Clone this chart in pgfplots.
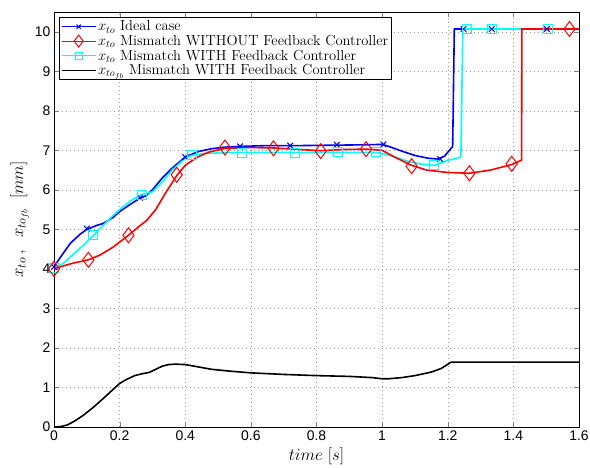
\documentclass[border=0pt]{standalone}
\usepackage{fix-cm}
\usepackage{fontspec}
\usepackage{pgfplots}
\pgfplotsset{compat=1.18}
\newfontfamily\helv{Liberation Sans}
\definecolor{mcyan}{rgb}{0,1,1}
\definecolor{mblue}{rgb}{0,0,1}
\definecolor{mred}{rgb}{1,0,0}

\begin{document}
\begin{tikzpicture}
  \begin{axis}[
      scale only axis,
      width=525bp, height=415bp,
      xmin=0, xmax=1.6, ymin=0, ymax=10.5,
      xtick={0,0.2,...,1.6},
      ytick={0,1,...,10},
      xticklabels={0,0.2,0.4,0.6,0.8,1,1.2,1.4,1.6},
      tick align=inside,
      major tick length=5bp,
      grid=major,
      major grid style={gray!80, dash pattern=on 1bp off 3bp},
      axis line style={line width=0.8bp},
      /pgf/number format/assume math mode=true,
      tick label style={font=\helv\fontsize{14}{14}\selectfont},
      xlabel={$time\ [s]$},
      ylabel={$x_{to}\,,\;\; x_{to_{fb}}\;\;[mm]$},
      label style={font=\fontsize{17}{17}\selectfont},
      xlabel style={yshift=-1bp},
      ylabel style={yshift=-1bp},
      legend style={at={(0.01,0.988)}, anchor=north west,
        font=\fontsize{14.6}{15}\selectfont,
        draw=black, line width=0.8bp, inner sep=1.5bp,
        row sep=-1.2bp,
        cells={anchor=west}},
      legend image code/.code={%
        \draw[mark repeat=2, mark phase=2, line width=1bp, #1]
          plot coordinates {(0cm,0cm) (0.6cm,0cm) (1.2cm,0cm)};},
  ]

  % legend entries
  \addlegendimage{mblue, mark=x, mark size=3bp}
  \addlegendentry{$x_{to}$ Ideal case}
  \addlegendimage{mred, mark=diamond, mark size=6bp}
  \addlegendentry{$x_{to}$ Mismatch WITHOUT Feedback Controller}
  \addlegendimage{mcyan, mark=square, mark size=3.5bp}
  \addlegendentry{$x_{to}$ Mismatch WITH Feedback Controller}
  \addlegendimage{black, no marks}
  \addlegendentry{$x_{to_{fb}}$ Mismatch WITH Feedback Controller}

  % ideal case (blue)
  \addplot[mblue, line width=1.6bp, forget plot] coordinates {
    (0,4.05) (0.02,4.3) (0.05,4.65) (0.08,4.88) (0.10,5.0) (0.13,5.1)
    (0.15,5.15) (0.18,5.3) (0.2,5.45) (0.23,5.62) (0.26,5.78) (0.28,5.85)
    (0.30,6.0) (0.33,6.3) (0.36,6.55) (0.40,6.83) (0.44,6.97) (0.48,7.04)
    (0.52,7.08) (0.57,7.1) (0.65,7.12) (0.75,7.12) (0.85,7.13) (0.95,7.14)
    (1.0,7.15) (1.02,7.1) (1.06,6.98) (1.10,6.87) (1.14,6.8) (1.17,6.78)
    (1.19,6.85) (1.21,7.05) (1.215,7.1) (1.22,10.07) (1.6,10.07)
  };
  \addplot[mblue, only marks, mark=x, mark size=4bp, line width=1bp, forget plot] coordinates {
    (0,4.05) (0.10,5.02) (0.262,5.8) (0.40,6.83) (0.567,7.1) (0.72,7.12)
    (0.862,7.14) (1.004,7.15) (1.177,6.78) (1.248,10.07) (1.334,10.07) (1.502,10.07)
  };

  % mismatch with feedback (cyan)
  \addplot[mcyan, line width=1.6bp, forget plot] coordinates {
    (0,4.02) (0.03,4.15) (0.06,4.38) (0.09,4.6) (0.12,4.85) (0.15,5.1)
    (0.18,5.35) (0.21,5.57) (0.24,5.76) (0.267,5.88) (0.30,5.95) (0.33,6.2)
    (0.36,6.5) (0.40,6.8) (0.42,6.87) (0.46,6.92) (0.52,6.94) (0.6,6.95)
    (0.75,6.95) (0.9,6.95) (0.98,6.95) (1.0,6.92) (1.04,6.83) (1.08,6.72)
    (1.12,6.65) (1.157,6.62) (1.18,6.68) (1.2,6.75) (1.22,6.78) (1.24,6.83)
    (1.246,10.07) (1.6,10.07)
  };
  \addplot[mcyan, only marks, mark=square, mark size=4.5bp, line width=1bp, forget plot] coordinates {
    (0,4.02) (0.12,4.85) (0.267,5.88) (0.42,6.87) (0.572,6.94) (0.735,6.94)
    (0.867,6.95) (0.982,6.95) (1.157,6.62) (1.258,10.07) (1.334,10.07) (1.506,10.07)
  };

  % mismatch without feedback (red)
  \addplot[mred, line width=1.6bp, forget plot] coordinates {
    (0,4.0) (0.03,4.08) (0.06,4.15) (0.105,4.23) (0.14,4.35) (0.18,4.55)
    (0.227,4.85) (0.26,5.08) (0.283,5.23) (0.31,5.5) (0.34,5.92) (0.374,6.36)
    (0.40,6.62) (0.435,6.82) (0.47,6.95) (0.521,7.05) (0.6,7.07) (0.669,7.06)
    (0.75,7.02) (0.813,6.99) (0.88,7.02) (0.951,7.03) (1.0,7.0) (1.04,6.82)
    (1.09,6.62) (1.136,6.5) (1.2,6.44) (1.266,6.42) (1.33,6.5) (1.395,6.64)
    (1.425,6.75) (1.426,10.07) (1.6,10.07)
  };
  \addplot[mred, only marks, mark=diamond, mark size=7.5bp, line width=1bp, forget plot] coordinates {
    (0,4.0) (0.105,4.23) (0.227,4.85) (0.374,6.38) (0.521,7.07) (0.669,7.05)
    (0.813,6.98) (0.951,7.03) (1.09,6.6) (1.266,6.42) (1.395,6.66) (1.571,10.07)
  };

  % feedback signal (black)
  \addplot[black, line width=1.6bp, forget plot] coordinates {
    (0,0) (0.02,0.01) (0.04,0.05) (0.063,0.15) (0.09,0.3) (0.12,0.5)
    (0.15,0.72) (0.18,0.95) (0.20,1.1) (0.22,1.2) (0.246,1.3) (0.27,1.35)
    (0.29,1.38) (0.31,1.46) (0.33,1.54) (0.35,1.58) (0.37,1.59) (0.40,1.58)
    (0.44,1.52) (0.48,1.46) (0.54,1.41) (0.6,1.37) (0.7,1.33) (0.8,1.3)
    (0.9,1.28) (0.97,1.25) (1.0,1.22) (1.02,1.22) (1.06,1.25) (1.1,1.3)
    (1.15,1.39) (1.18,1.48) (1.21,1.64) (1.6,1.64)
  };
  \end{axis}
  \pgfresetboundingbox
  \path ([shift={(-54bp,-41bp)}]current axis.south west)
    rectangle ([shift={(11bp,12bp)}]current axis.north east);
\end{tikzpicture}
\end{document}
